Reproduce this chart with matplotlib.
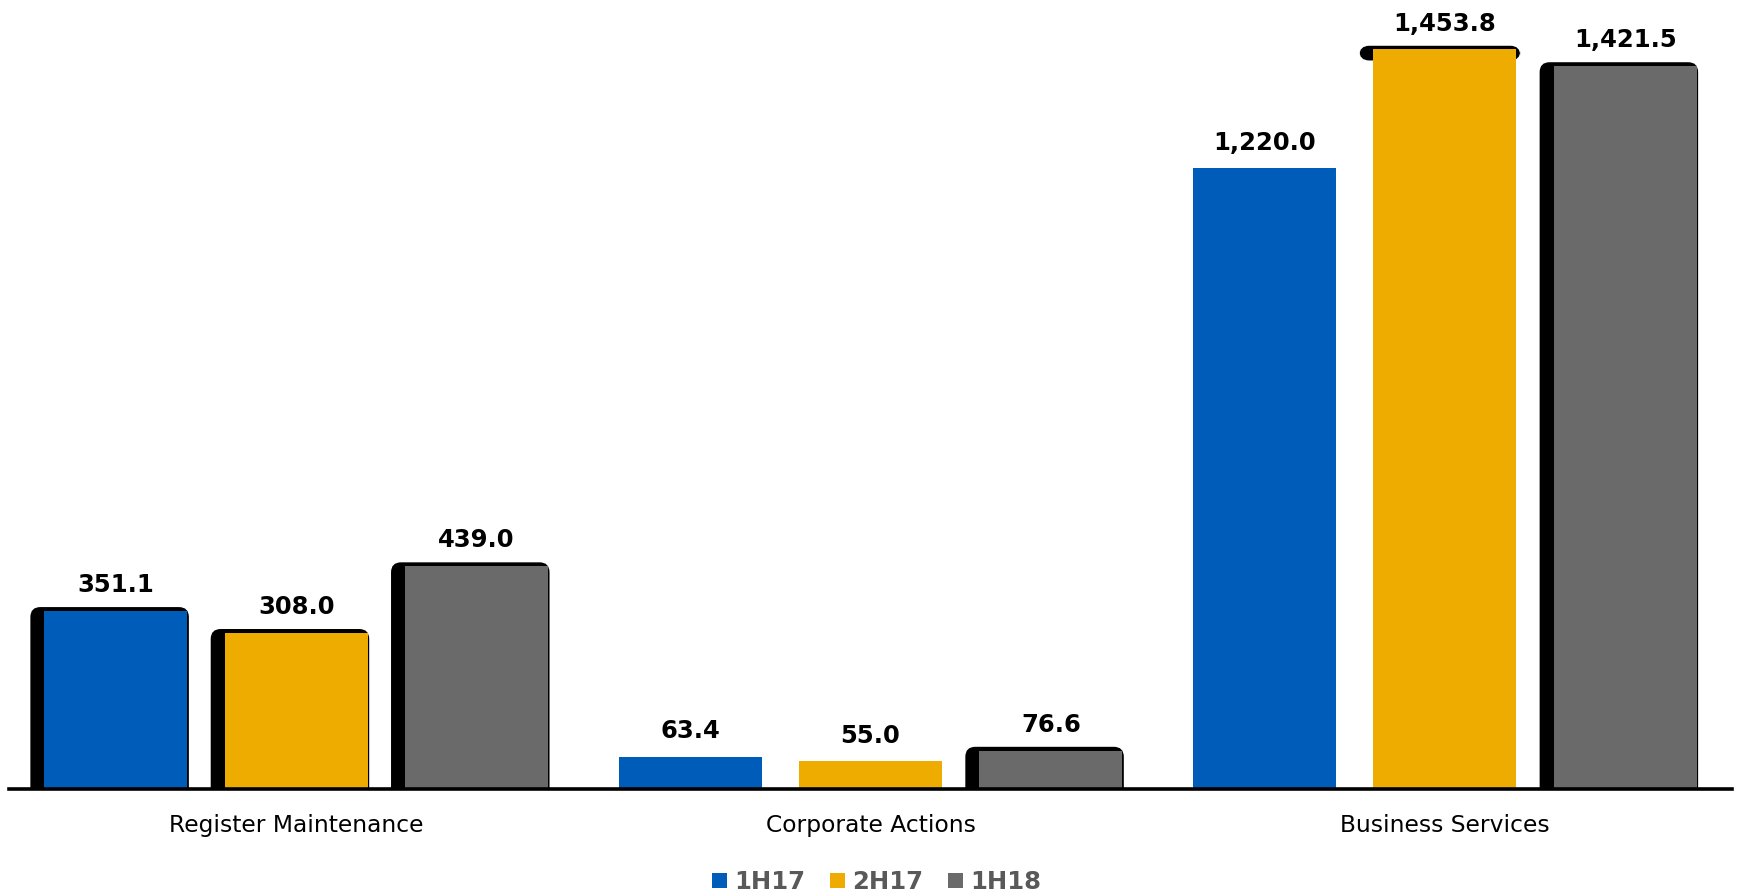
import matplotlib.pyplot as plt
from matplotlib.patches import FancyBboxPatch, Patch
import numpy as np

# data
categories = ['Register Maintenance', 'Corporate Actions', 'Business Services']
periods = ['1H17', '2H17', '1H18']
vals_1h17 = [351.1, 63.4, 1220.0]
vals_2h17 = [308.0, 55.0, 1453.8]
vals_1h18 = [439.0, 76.6, 1421.5]

colors = ['#005CB9', '#EEAB00', '#6A6A6A']
# black "shadow" look per bar: 0 none, 1 full, 2 top cap only
shadow = [[1, 0, 0], [1, 0, 2], [1, 1, 1]]

series = [vals_1h17, vals_2h17, vals_1h18]

fig = plt.figure(figsize=(17.41, 8.94), dpi=100)
ax_pos = [0.0052, 0.1169, 0.9896, 0.8831]
ax = fig.add_axes(ax_pos)
xlim = (-0.5, 2.5)
ylim = (0, 1551)
ax.set_xlim(*xlim)
ax.set_ylim(*ylim)

# data units per pixel, used for the shadow offsets
ux = (xlim[1] - xlim[0]) / (ax_pos[2] * 1741)
uy = (ylim[1] - ylim[0]) / (ax_pos[3] * 894)
aspect = uy / ux

x = np.arange(len(categories))
width = 0.249
step = 0.314

for i, vals in enumerate(series):
    xs = x + (i - 1) * step
    ax.bar(xs, vals, width, color=colors[i], zorder=3)
    for j, (xc, v) in enumerate(zip(xs, vals)):
        s = shadow[i][j]
        if s == 1:
            left = xc - width / 2 - 14 * ux
            right = xc + width / 2 + 1.5 * ux
            bot = -60
            top = v + 3.7 * uy
        elif s == 2:
            left = xc - width / 2 - 14 * ux
            right = xc + width / 2 + 4 * ux
            bot = v - 11 * uy
            top = v + 3.7 * uy
        if s:
            p = FancyBboxPatch((left, bot), right - left, top - bot,
                               boxstyle='round,pad=0,rounding_size=%f' % (10 * ux),
                               mutation_aspect=aspect, facecolor='black',
                               edgecolor='none', zorder=2)
            ax.add_patch(p)
        ax.annotate(f'{v:,.1f}', (xc, v), xytext=(0, 10), textcoords='offset points',
                    ha='center', va='bottom', fontsize=17.5, fontweight='bold',
                    color='black', zorder=5)

for sp in ['left', 'top', 'right']:
    ax.spines[sp].set_visible(False)
ax.spines['bottom'].set_linewidth(2.6)
ax.spines['bottom'].set_zorder(6)
ax.set_yticks([])
ax.set_xticks(x)
ax.set_xticklabels(categories, fontsize=16.8)
ax.tick_params(axis='x', length=0, pad=18)

handles = [Patch(facecolor=c, edgecolor='none') for c in colors]
leg = fig.legend(handles, periods, loc='center', bbox_to_anchor=(0.5035, 0.0135),
                 ncol=3, frameon=False, fontsize=17.5, handlelength=0.62,
                 handleheight=0.62, handletextpad=0.3, columnspacing=1.0,
                 borderpad=0)
for t in leg.get_texts():
    t.set_color('#595959')
    t.set_fontweight('bold')

fig.savefig('out.png', dpi=100)
